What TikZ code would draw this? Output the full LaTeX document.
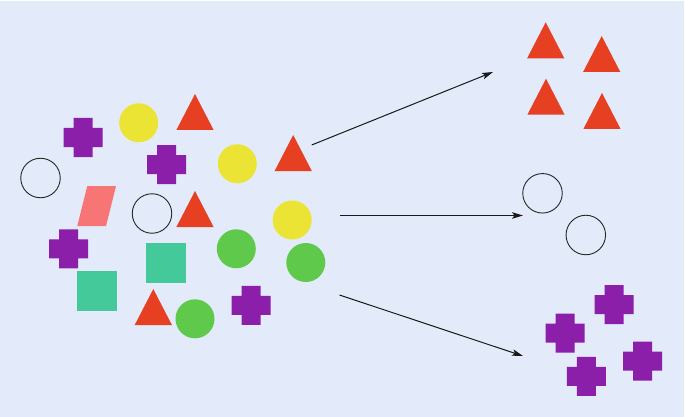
\documentclass[tikz,border=0pt]{standalone}
\usetikzlibrary{arrows.meta}
\definecolor{bgc}{HTML}{E3EAF9}
\definecolor{purp}{HTML}{8B1FAA}
\definecolor{redc}{HTML}{E63F22}
\definecolor{yelc}{HTML}{EBE434}
\definecolor{grnc}{HTML}{5FC94B}
\definecolor{teal2}{HTML}{44C99A}
\definecolor{pinkc}{HTML}{F87575}
\begin{document}
\begin{tikzpicture}[x=1pt,y=-1pt,
  crosspic/.pic={\fill[purp] (-9.5,-19.5) -- (9.5,-19.5) -- (9.5,-9.5) -- (19.5,-9.5) -- (19.5,9.5) -- (9.5,9.5) -- (9.5,19.5) -- (-9.5,19.5) -- (-9.5,9.5) -- (-19.5,9.5) -- (-19.5,-9.5) -- (-9.5,-9.5) -- cycle;},
  tripic/.pic={\fill[redc] (0,0) -- (18.6,36) -- (-18.6,36) -- cycle;},
  ring/.style={circle,draw=black!85,line width=0.9pt,minimum size=39.5pt,inner sep=0pt},
  dot/.style={circle,fill=#1,minimum size=39pt,inner sep=0pt},
  sq/.style={fill=teal2,minimum size=40pt,inner sep=0pt},
  conn/.style={line width=1pt,black!90,-{Stealth[length=11pt,width=6.5pt,inset=2.5pt]}}]
\useasboundingbox (0,0) rectangle (685,417);
\fill[white] (0,0) rectangle (685,417);
\fill[bgc] (0,1) rectangle (684,416.5);
% left cluster
\pic at (83,137.5) {crosspic};
\pic at (166.7,164.7) {crosspic};
\pic at (68.5,248.8) {crosspic};
\pic at (251,305.3) {crosspic};
\node[dot=yelc] (y1) at (138.7,122.8) {};
\node[dot=yelc] (y2) at (237.3,163.8) {};
\node[dot=yelc] (y3) at (292.2,220) {};
\node[dot=grnc] (g1) at (236.3,248.8) {};
\node[dot=grnc] (g2) at (305.8,262.5) {};
\node[dot=grnc] (g3) at (195,318.8) {};
\pic at (195,94) {tripic};
\pic at (293.2,135) {tripic};
\pic at (195,191) {tripic};
\pic at (153.3,289) {tripic};
\node[ring] (c1) at (40.5,178) {};
\node[ring] (c2) at (152,213.5) {};
\fill[pinkc] (87.3,186) -- (116,186) -- (106,226) -- (77.3,226) -- cycle;
\node[sq] (s1) at (166,263) {};
\node[sq] (s2) at (96.5,290.8) {};
% right groups
\pic at (545.7,22.3) {tripic};
\pic at (601.7,36) {tripic};
\pic at (546,78.7) {tripic};
\pic at (602,93) {tripic};
\node[ring] (r1) at (542.5,193.3) {};
\node[ring] (r2) at (585.8,235) {};
\pic at (614.2,304.5) {crosspic};
\pic at (565,333) {crosspic};
\pic at (586.3,376.3) {crosspic};
\pic at (642.7,361) {crosspic};
% connectors
\coordinate (a1s) at (311.7,145);
\coordinate (a1e) at (493,72);
\coordinate (a2s) at (339.5,215.5);
\coordinate (a2e) at (523,215.5);
\coordinate (a3s) at (339.5,295);
\coordinate (a3e) at (523,356);
\draw[conn] (a1s) -- (a1e);
\draw[conn] (a2s) -- (a2e);
\draw[conn] (a3s) -- (a3e);
\end{tikzpicture}
\end{document}
